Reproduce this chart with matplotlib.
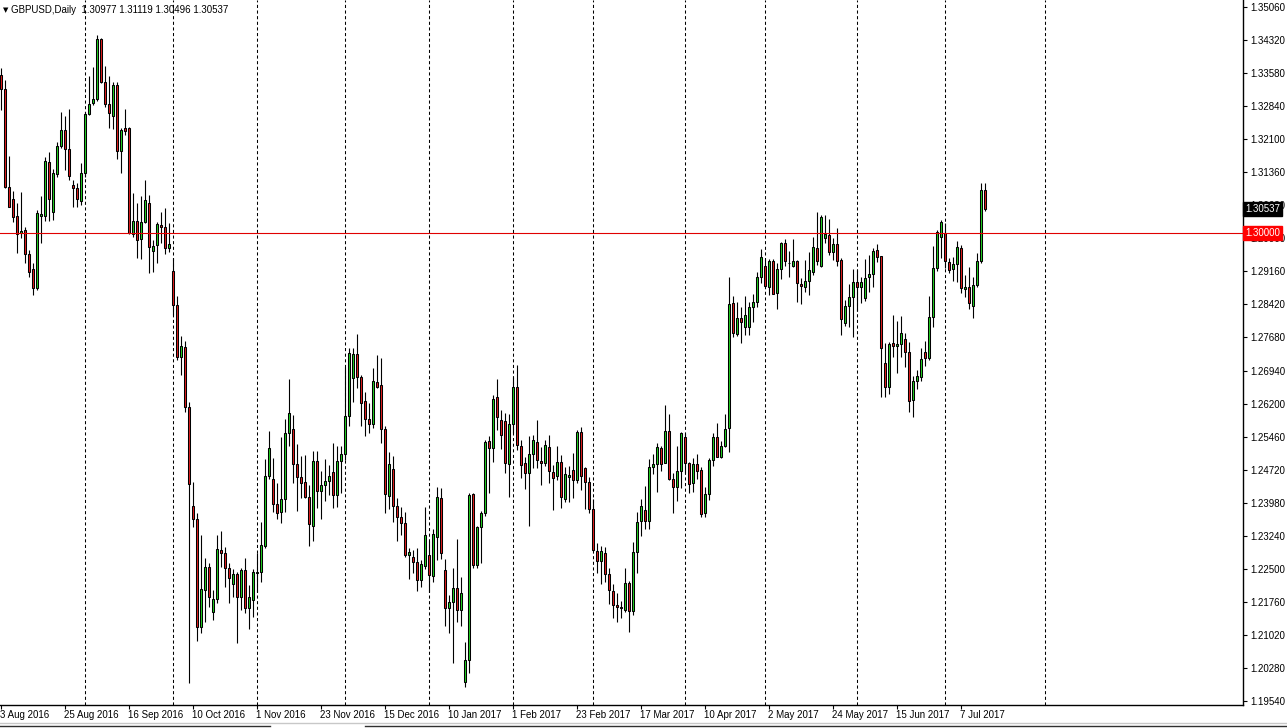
import matplotlib
matplotlib.use("Agg")
import matplotlib.pyplot as plt
from matplotlib.transforms import blended_transform_factory
import numpy as np

# ---------------- data (GBPUSD daily) ----------------
opens = [1.3354,1.3323,1.3104,1.3077,1.3039,1.3001,1.3007,1.2954,1.2920,1.2878,
1.3039,1.3039,1.3159,1.3048,1.3133,1.3195,1.3231,1.3188,1.3108,1.3101,
1.3072,1.3135,1.3267,1.3291,1.3300,1.3434,1.3338,1.3289,1.3262,1.3332,
1.3184,1.3235,1.3235,1.2998,1.3027,1.2987,1.3025,1.3068,1.2960,1.2974,
1.3019,1.3014,1.2967,1.2916,1.2840,1.2723,1.2746,1.2611,1.2390,1.2361,
1.2119,1.2202,1.2254,1.2153,1.2182,1.2292,1.2285,1.2252,1.2216,1.2238,
1.2187,1.2247,1.2162,1.2180,1.2240,1.2243,1.2301,1.2457,1.2450,1.2395,
1.2377,1.2406,1.2553,1.2562,1.2484,1.2455,1.2444,1.2410,1.2345,1.2491,
1.2424,1.2437,1.2446,1.2466,1.2415,1.2491,1.2506,1.2591,1.2676,1.2730,
1.2679,1.2625,1.2585,1.2573,1.2667,1.2661,1.2562,1.2413,1.2473,1.2390,
1.2366,1.2352,1.2281,1.2276,1.2265,1.2225,1.2256,1.2281,1.2234,1.2321,
1.2408,1.2247,1.2162,1.2175,1.2207,1.2158,1.1996,1.2046,1.2417,1.2258,
1.2343,1.2375,1.2535,1.2520,1.2634,1.2582,1.2580,1.2484,1.2573,1.2656,
1.2524,1.2486,1.2464,1.2506,1.2533,1.2491,1.2486,1.2522,1.2466,1.2457,
1.2489,1.2406,1.2455,1.2471,1.2448,1.2555,1.2475,1.2444,1.2384,1.2290,
1.2267,1.2285,1.2238,1.2200,1.2169,1.2164,1.2158,1.2218,1.2155,1.2287,
1.2357,1.2381,1.2357,1.2477,1.2484,1.2520,1.2486,1.2558,1.2450,1.2433,
1.2468,1.2544,1.2486,1.2441,1.2484,1.2471,1.2375,1.2417,1.2493,1.2544,
1.2500,1.2524,1.2564,1.2844,1.2775,1.2811,1.2790,1.2790,1.2835,1.2846,
1.2902,1.2927,1.2880,1.2938,1.2866,1.2920,1.2978,1.2934,1.2927,1.2938,
1.2887,1.2880,1.2893,1.2913,1.2967,1.2927,1.2990,1.2996,1.2958,1.2976,
1.2940,1.2799,1.2838,1.2858,1.2891,1.2880,1.2855,1.2902,1.2909,1.2963,
1.2949,1.2710,1.2656,1.2755,1.2748,1.2752,1.2764,1.2734,1.2627,1.2670,
1.2679,1.2734,1.2721,1.2813,1.2922,1.2992,1.3001,1.2936,1.2920,1.2931,
1.2967,1.2875,1.2880,1.2838,1.2884,1.2938,1.30977]

highs = [1.3370,1.3343,1.3173,1.3095,1.3068,1.3092,1.3014,1.2963,1.2934,1.3052,
1.3083,1.3170,1.3182,1.3144,1.3204,1.3271,1.3262,1.3278,1.3119,1.3113,
1.3157,1.3271,1.3352,1.3372,1.3443,1.3437,1.3374,1.3352,1.3338,1.3338,
1.3235,1.3278,1.3238,1.3090,1.3068,1.3083,1.3119,1.3086,1.2985,1.3025,
1.3048,1.3057,1.3023,1.2945,1.2860,1.2770,1.2759,1.2623,1.2444,1.2375,
1.2325,1.2274,1.2263,1.2202,1.2325,1.2334,1.2298,1.2263,1.2249,1.2243,
1.2252,1.2274,1.2214,1.2249,1.2285,1.2354,1.2495,1.2558,1.2498,1.2441,
1.2544,1.2585,1.2674,1.2593,1.2529,1.2502,1.2504,1.2437,1.2513,1.2513,
1.2468,1.2495,1.2482,1.2531,1.2524,1.2524,1.2701,1.2743,1.2743,1.2775,
1.2683,1.2645,1.2621,1.2699,1.2728,1.2721,1.2569,1.2511,1.2502,1.2408,
1.2388,1.2377,1.2296,1.2292,1.2296,1.2269,1.2388,1.2312,1.2339,1.2433,
1.2430,1.2272,1.2191,1.2252,1.2316,1.2231,1.2086,1.2419,1.2419,1.2345,
1.2379,1.2538,1.2546,1.2638,1.2674,1.2605,1.2598,1.2596,1.2679,1.2705,
1.2538,1.2500,1.2546,1.2549,1.2582,1.2522,1.2538,1.2549,1.2482,1.2524,
1.2504,1.2477,1.2480,1.2509,1.2560,1.2567,1.2477,1.2455,1.2406,1.2307,
1.2301,1.2298,1.2252,1.2216,1.2196,1.2178,1.2252,1.2223,1.2310,1.2377,
1.2406,1.2435,1.2495,1.2506,1.2531,1.2524,1.2616,1.2596,1.2464,1.2524,
1.2555,1.2553,1.2489,1.2498,1.2506,1.2477,1.2433,1.2498,1.2553,1.2576,
1.2535,1.2596,1.2902,1.2860,1.2846,1.2835,1.2860,1.2846,1.2864,1.2913,
1.2965,1.2943,1.2943,1.2943,1.2934,1.2981,1.2987,1.2960,1.2987,1.2940,
1.2900,1.2940,1.2958,1.2992,1.3048,1.3041,1.3041,1.3032,1.2990,1.3012,
1.2945,1.2851,1.2887,1.2920,1.2918,1.2902,1.2943,1.2951,1.2967,1.2976,
1.2949,1.2755,1.2757,1.2817,1.2804,1.2815,1.2777,1.2757,1.2681,1.2694,
1.2743,1.2759,1.2860,1.2972,1.3007,1.3030,1.3023,1.2945,1.2947,1.2983,
1.2974,1.2907,1.2925,1.2902,1.2956,1.3113,1.31119]

lows = [1.3276,1.3101,1.3059,1.3025,1.2956,1.2990,1.2934,1.2902,1.2862,1.2873,
1.2978,1.3027,1.3027,1.3030,1.3126,1.3191,1.3142,1.3119,1.3059,1.3059,
1.3063,1.3126,1.3264,1.3287,1.3296,1.3336,1.3282,1.3235,1.3233,1.3166,
1.3135,1.3220,1.2998,1.2992,1.2945,1.2943,1.3023,1.2911,1.2913,1.2934,
1.2978,1.2954,1.2958,1.2817,1.2717,1.2683,1.2600,1.1994,1.2343,1.2088,
1.2106,1.2131,1.2164,1.2135,1.2173,1.2254,1.2209,1.2173,1.2187,1.2084,
1.2158,1.2151,1.2115,1.2142,1.2198,1.2220,1.2296,1.2450,1.2377,1.2361,
1.2352,1.2377,1.2524,1.2441,1.2379,1.2408,1.2408,1.2301,1.2312,1.2386,
1.2361,1.2401,1.2415,1.2386,1.2388,1.2419,1.2493,1.2569,1.2623,1.2654,
1.2569,1.2546,1.2553,1.2564,1.2654,1.2531,1.2375,1.2384,1.2354,1.2312,
1.2325,1.2276,1.2227,1.2240,1.2200,1.2209,1.2249,1.2198,1.2220,1.2269,
1.2272,1.2122,1.2106,1.2039,1.2131,1.2122,1.1985,1.2017,1.2252,1.2252,
1.2263,1.2368,1.2419,1.2489,1.2560,1.2518,1.2464,1.2410,1.2553,1.2515,
1.2453,1.2428,1.2345,1.2475,1.2475,1.2437,1.2480,1.2441,1.2381,1.2448,
1.2386,1.2399,1.2399,1.2408,1.2441,1.2426,1.2384,1.2375,1.2290,1.2240,
1.2216,1.2220,1.2171,1.2140,1.2131,1.2140,1.2153,1.2108,1.2146,1.2240,
1.2323,1.2339,1.2339,1.2462,1.2421,1.2468,1.2486,1.2448,1.2375,1.2401,
1.2430,1.2464,1.2419,1.2421,1.2450,1.2366,1.2366,1.2404,1.2480,1.2500,
1.2498,1.2522,1.2511,1.2768,1.2770,1.2755,1.2773,1.2773,1.2802,1.2835,
1.2889,1.2880,1.2862,1.2864,1.2831,1.2898,1.2927,1.2902,1.2925,1.2846,
1.2842,1.2869,1.2862,1.2907,1.2929,1.2925,1.2978,1.2951,1.2940,1.2927,
1.2773,1.2793,1.2790,1.2768,1.2826,1.2844,1.2849,1.2869,1.2880,1.2936,
1.2634,1.2634,1.2640,1.2723,1.2688,1.2723,1.2701,1.2600,1.2589,1.2652,
1.2670,1.2703,1.2717,1.2790,1.2916,1.2945,1.2922,1.2911,1.2893,1.2891,
1.2866,1.2858,1.2831,1.2811,1.2880,1.2934,1.30496]

closes = [1.3323,1.3104,1.3059,1.3036,1.2998,1.3005,1.2954,1.2913,1.2878,1.3045,
1.3043,1.3162,1.3077,1.3135,1.3195,1.3231,1.3188,1.3128,1.3101,1.3077,
1.3135,1.3267,1.3289,1.3300,1.3434,1.3338,1.3289,1.3269,1.3332,1.3184,
1.3231,1.3229,1.3001,1.3027,1.2985,1.3025,1.3074,1.2970,1.2972,1.3021,
1.3014,1.2967,1.2976,1.2840,1.2723,1.2748,1.2611,1.2439,1.2361,1.2119,
1.2205,1.2254,1.2187,1.2182,1.2294,1.2285,1.2252,1.2229,1.2238,1.2187,
1.2247,1.2162,1.2187,1.2243,1.2243,1.2303,1.2457,1.2520,1.2395,1.2375,
1.2406,1.2553,1.2598,1.2484,1.2455,1.2441,1.2410,1.2350,1.2491,1.2424,
1.2437,1.2446,1.2457,1.2415,1.2491,1.2506,1.2591,1.2732,1.2730,1.2679,
1.2621,1.2585,1.2573,1.2670,1.2656,1.2562,1.2417,1.2484,1.2390,1.2366,
1.2352,1.2281,1.2287,1.2265,1.2225,1.2261,1.2325,1.2236,1.2327,1.2410,
1.2285,1.2162,1.2175,1.2207,1.2158,1.2196,1.2046,1.2415,1.2258,1.2343,
1.2375,1.2533,1.2520,1.2629,1.2589,1.2549,1.2486,1.2573,1.2656,1.2527,
1.2482,1.2464,1.2506,1.2538,1.2493,1.2486,1.2527,1.2468,1.2453,1.2489,
1.2410,1.2462,1.2459,1.2448,1.2555,1.2457,1.2444,1.2384,1.2292,1.2267,
1.2290,1.2238,1.2202,1.2169,1.2164,1.2162,1.2218,1.2155,1.2287,1.2354,
1.2390,1.2357,1.2477,1.2484,1.2522,1.2484,1.2558,1.2450,1.2433,1.2468,
1.2553,1.2486,1.2439,1.2484,1.2468,1.2372,1.2417,1.2493,1.2544,1.2500,
1.2524,1.2562,1.2842,1.2777,1.2811,1.2802,1.2817,1.2835,1.2846,1.2902,
1.2947,1.2882,1.2938,1.2864,1.2920,1.2978,1.2938,1.2933,1.2938,1.2889,
1.2882,1.2893,1.2918,1.2969,1.2938,1.3036,1.2998,1.2958,1.2976,1.2938,
1.2808,1.2838,1.2858,1.2891,1.2880,1.2891,1.2900,1.2909,1.2960,1.2947,
1.2743,1.2656,1.2752,1.2748,1.2752,1.2777,1.2734,1.2625,1.2670,1.2681,
1.2719,1.2721,1.2813,1.2922,1.3003,1.3025,1.2938,1.2918,1.2931,1.2969,
1.2878,1.2880,1.2844,1.2884,1.2938,1.3097,1.30537]

date_labels = ["3 Aug 2016", "25 Aug 2016", "16 Sep 2016", "10 Oct 2016", "1 Nov 2016",
               "23 Nov 2016", "15 Dec 2016", "10 Jan 2017", "1 Feb 2017", "23 Feb 2017",
               "17 Mar 2017", "10 Apr 2017", "2 May 2017", "24 May 2017", "15 Jun 2017",
               "7 Jul 2017"]
date_label_bars = [0, 16, 32, 48, 64, 80, 96, 112, 128, 144, 160, 176, 192, 208, 224, 240]
month_start_bars = [21, 43, 64, 86, 107, 128, 148, 171, 191, 214, 236, 261]

price_labels = ["1.35060", "1.34320", "1.33580", "1.32840", "1.32100", "1.31360", "1.30630",
                "1.29900", "1.29160", "1.28420", "1.27680", "1.26940", "1.26200", "1.25460",
                "1.24720", "1.23980", "1.23240", "1.22500", "1.21760", "1.21020", "1.20280",
                "1.19540"]
price_top, price_bottom = 1.35060, 1.19540

header_text = "GBPUSD,Daily  1.30977 1.31119 1.30496 1.30537"
last_price = 1.30537
level_price = 1.30000

# ---------------- styling ----------------
BULL = "#22D022"
BEAR = "#E01E1E"
FONT = "Liberation Sans"
FS = 7

W, H = 1287, 728
fig = plt.figure(figsize=(W / 100, H / 100), dpi=100)
fig.patch.set_facecolor("white")

ax_left, ax_right_px, ax_top_px, ax_bottom_px = 0, 1243, 0, 705
ax = fig.add_axes([ax_left / W, (H - ax_bottom_px) / H,
                   (ax_right_px - ax_left) / W, (ax_bottom_px - ax_top_px) / H])
ax.set_facecolor("white")

n = len(opens)
x = np.arange(n)
o = np.array(opens); h = np.array(highs); l = np.array(lows); c = np.array(closes)

# y range: 1.35060 sits 7 px below the top, 1.19540 at 701 px
ppp = (price_top - price_bottom) / 694.0
ax.set_ylim(price_top - (705 - 7) * ppp, price_top + 7 * ppp)
ax.set_xlim(-1.3 / 4, (1243 - 1.3) / 4)

# month separators (dashed grid)
for b in month_start_bars:
    ax.axvline(b, color="black", lw=0.75, linestyle=(0, (3, 2.4)), zorder=1)

# wicks
ax.vlines(x, l, h, color="black", lw=0.8, zorder=2)
# bodies
body_bottom = np.minimum(o, c)
body_h = np.maximum(np.abs(c - o), ppp * 0.4)
colors = np.where(c > o, BULL, BEAR)
ax.bar(x, body_h, bottom=body_bottom, width=0.52, color=colors,
       edgecolor="black", linewidth=0.75, zorder=3)

# horizontal level
ax.axhline(level_price, color="#E00000", lw=0.8, zorder=4)

# axes frame
for s in ["top", "left"]:
    ax.spines[s].set_visible(False)
ax.spines["right"].set_linewidth(1.0)
ax.spines["bottom"].set_linewidth(1.0)

# right price axis
yt = [price_top - k * (price_top - price_bottom) / 21 for k in range(22)]
ax.yaxis.tick_right()
ax.set_yticks(yt)
ax.set_yticklabels(price_labels, fontfamily=FONT, fontsize=FS)
ax.tick_params(axis="y", direction="out", length=3, width=0.8, pad=2, colors="black")

# bottom time axis: small ticks at label positions
ax.set_xticks(date_label_bars)
ax.set_xticklabels([])
ax.tick_params(axis="x", direction="out", length=3, width=0.8, colors="black")

tb = blended_transform_factory(ax.transData, fig.transFigure)
for b, lab in zip(date_label_bars, date_labels):
    ax.text(b - 0.25, (H - 717.5) / H, lab, transform=tb, ha="left", va="baseline",
            fontsize=FS, fontfamily=FONT, clip_on=False)

# price boxes on axis
tr = blended_transform_factory(ax.transAxes, ax.transData)
ax.text(1.0015, last_price, "1.30537", transform=tr, ha="left", va="center",
        color="white", fontsize=FS, fontfamily=FONT, clip_on=False, zorder=10,
        bbox=dict(boxstyle="square,pad=0.22", fc="black", ec="black"))
ax.text(1.0015, level_price, "1.30000", transform=tr, ha="left", va="center",
        color="white", fontsize=FS, fontfamily=FONT, clip_on=False, zorder=10,
        bbox=dict(boxstyle="square,pad=0.22", fc="#FF0000", ec="#FF0000"))

# header
fig.text(3 / W, 1 - 10 / H, "\u25BC", fontsize=5, fontfamily="DejaVu Sans",
         va="center", ha="left")
fig.text(11 / W, 1 - 10 / H, header_text, fontsize=FS, fontfamily=FONT,
         va="center", ha="left")

# window bottom edge (tab bar)
fig.add_artist(plt.Line2D([0, 1], [1 - 722.5 / H, 1 - 722.5 / H], transform=fig.transFigure,
                          color="#C8C8C8", lw=1.0))
for x0, x1 in [(0, 270), (365, W)]:
    fig.add_artist(plt.Line2D([x0 / W, x1 / W], [1 - 726 / H, 1 - 726 / H],
                              transform=fig.transFigure, color="#303030", lw=1.0))

fig.savefig("out.png", dpi=100)
